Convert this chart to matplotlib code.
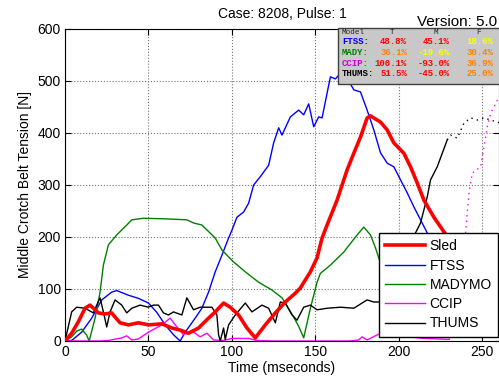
import matplotlib
matplotlib.use("Agg")
import matplotlib.pyplot as plt
from matplotlib.patches import Rectangle

plt.rcParams['font.family'] = ['Liberation Sans', 'DejaVu Sans']
plt.rcParams['font.size'] = 10

# Sled (red, thick)
sled_t = [0, 4, 8, 12, 15, 18, 20, 24, 28, 30, 33, 38, 44, 50, 58, 64, 69, 74, 80, 86, 90, 95,
          99, 104, 109, 114, 120, 126, 132, 138, 141, 147, 151, 154, 157, 163, 169, 173, 177,
          181, 183, 189, 193, 197, 203, 207, 211, 215, 221, 227, 233, 240]
sled_v = [0, 15, 37, 63, 69, 60, 54, 52, 54, 46, 35, 31, 35, 31, 33, 25, 21, 15, 25, 44, 56, 73,
          65, 50, 25, 6, 31, 54, 75, 92, 102, 133, 160, 198, 223, 271, 329, 361, 392,
          429, 433, 421, 406, 381, 361, 335, 304, 271, 238, 210, 185, 160]

# FTSS (blue)
ftss_t = [0, 4, 10, 16, 22, 28, 31, 38, 44, 50, 55, 60, 65, 69, 72, 78, 82, 86, 90, 94, 98,
          100, 103, 107, 110, 113, 117, 122, 125, 128, 130, 135, 140, 143, 146, 149, 152, 154,
          159, 162, 165, 169, 173, 177, 181, 185, 189, 193, 197, 201, 205, 209, 213, 217, 222]
ftss_v = [0, 1, 17, 44, 79, 94, 97, 88, 82, 73, 55, 31, 12, 0, 17, 44, 63, 94, 133, 165, 198,
          213, 238, 248, 265, 300, 316, 338, 381, 410, 396, 431, 444, 435, 456, 412, 431, 429,
          508, 504, 515, 506, 483, 479, 444, 406, 362, 342, 335, 310, 285, 258, 233, 208, 180]

# MADYMO (green)
mady_t = [0, 4, 7, 10, 13, 14.5, 18, 21, 23, 26, 31, 37, 40, 47, 60, 73, 77, 82, 90, 94, 101,
          108, 116, 124, 130, 134, 137, 140, 143, 147, 151, 153, 159, 167, 175, 179, 183, 186,
          190, 196, 202]
mady_v = [0, 8, 19, 23, 11, 0, 44, 94, 146, 185, 204, 223, 233, 236, 235, 233, 227, 223, 198,
          175, 152, 133, 113, 98, 83, 62, 46, 28, 6, 63, 113, 130, 146, 171, 204, 219, 204, 179,
          140, 100, 60]

# CCIP (magenta), solid part then dotted part
ccip_t = [0, 20, 26, 34, 37, 40, 44, 50, 58, 63, 67, 71, 73, 77, 81, 85, 89, 95, 100, 110,
          115, 125, 150, 170, 176, 178, 181, 189, 200, 215, 230]
ccip_v = [0, 0, 1, 6, 10, 2, 4, 17, 31, 44, 27, 12, 15, 17, 8, 15, 2, 1, 5, 5, 1, 0, 0, 0, 2, 8,
          2, 15, 10, 5, 3]
ccip_dot_t = [230, 236, 238, 240, 242, 244, 249, 251, 253, 255, 259, 262]
ccip_dot_v = [3, 20, 100, 208, 285, 323, 335, 373, 412, 438, 463, 470]

# THUMS (black), solid part then dotted part
thums_t = [0, 4, 7, 12, 17, 19, 21, 23, 25, 27, 30, 34, 37, 40, 45, 50, 53, 56, 59, 62, 65,
           70, 73, 77, 81, 88, 91, 92, 93, 95, 96, 98, 102, 108, 112, 118, 122, 126, 129, 132,
           136, 139, 143, 147, 151, 157, 165, 173, 181, 185, 190, 200, 208, 210, 213, 217, 219,
           223, 226, 229]
thums_v = [0, 56, 65, 63, 54, 69, 83, 56, 27, 56, 79, 69, 54, 63, 69, 65, 69, 69, 54, 50, 56,
           50, 83, 60, 65, 65, 50, 12, 0, 25, 3, 31, 50, 73, 56, 69, 63, 35, 75, 73, 50, 40, 65,
           69, 60, 63, 65, 63, 79, 75, 75, 120, 190, 208, 227, 277, 310, 335, 361, 387]
thums_dot_t = [229, 231, 235, 239, 243, 247, 251, 255, 259, 262]
thums_dot_v = [387, 396, 390, 419, 429, 425, 429, 425, 421, 418]

# error table
tbl_models = ['FTSS:', 'MADY:', 'CCIP:', 'THUMS:']
tbl_model_colors = ['#0000ff', '#008000', '#cc00cc', '#000000']
tbl_T = ['48.8%', '36.1%', '100.1%', '51.5%']
tbl_M = ['45.1%', '-19.6%', '-93.0%', '-45.0%']
tbl_F = ['18.6%', '30.4%', '36.9%', '25.0%']
tbl_T_col = ['red', 'orange', 'red', 'red']
tbl_M_col = ['red', 'yellow', 'red', 'red']
tbl_F_col = ['yellow', 'orange', 'orange', 'orange']
col_map = {'red': '#ff0000', 'orange': '#ff8000', 'yellow': '#ffff00'}

W, H = 499, 381
fig = plt.figure(figsize=(W / 100, H / 100), dpi=100)
ax = fig.add_axes([65 / W, 1 - 341 / H, 434 / W, 312 / H])

ax.plot(sled_t, sled_v, color='#ff0000', lw=2.6, label='Sled', zorder=3)
ax.plot(ftss_t, ftss_v, color='#0000ff', lw=1.0, label='FTSS')
ax.plot(mady_t, mady_v, color='#008000', lw=1.0, label='MADYMO')
ax.plot(ccip_t, ccip_v, color='#ff00ff', lw=1.0, label='CCIP')
ax.plot(thums_t, thums_v, color='black', lw=1.0, label='THUMS')
ax.plot(ccip_dot_t, ccip_dot_v, color='#ff00ff', lw=1.0, ls=(0, (1, 3)))
ax.plot(thums_dot_t, thums_dot_v, color='black', lw=1.0, ls=(0, (1, 3)))

ax.set_xlim(0, 260)
ax.set_ylim(0, 600)
ax.set_xticks([0, 50, 100, 150, 200, 250])
ax.set_yticks([0, 100, 200, 300, 400, 500, 600])
ax.grid(True, ls=':', color='0.45', lw=0.8)
ax.tick_params(direction='in', length=4, top=True, right=True, pad=3)
ax.set_xlabel('Time (mseconds)', labelpad=1)
ax.set_ylabel('Middle Crotch Belt Tension [N]', labelpad=4)
ax.set_title('Case: 8208, Pulse: 1', fontsize=10, pad=8)

leg = ax.legend(loc='lower right', bbox_to_anchor=(0.998, 0.014), fancybox=False,
                framealpha=1, edgecolor='black', handlelength=2.9, handletextpad=0.3,
                labelspacing=0.38, borderpad=0.45, borderaxespad=0)
leg.get_frame().set_linewidth(1.0)

fig.text(497 / W, 1 - 26 / H, 'Version: 5.0', ha='right', va='baseline', fontsize=11)

# table box
fig.patches.append(Rectangle((338 / W, 1 - 84 / H), 163 / W, 56 / H, transform=fig.transFigure,
                             facecolor='#c8c8c8', edgecolor='#404040', lw=1.0, zorder=5))
mono = ['Liberation Mono', 'DejaVu Sans Mono']
fs = 6.5
fig.text(342 / W, 1 - 32 / H, 'Model', family=mono, fontsize=5.5, color='#202020',
         va='center', zorder=6)
for x, s in [(392, 'T'), (436, 'M'), (479, 'F')]:
    fig.text(x / W, 1 - 32 / H, s, family=mono, fontsize=5.5, color='#202020', ha='center',
             va='center', zorder=6)
for i in range(len(tbl_models)):
    y = 1 - (42 + i * 10.5) / H
    fig.text(342 / W, y, tbl_models[i], family=mono, fontsize=fs, fontweight='bold',
             color=tbl_model_colors[i], va='center', zorder=6)
    fig.text(407 / W, y, tbl_T[i], family=mono, fontsize=fs, fontweight='bold',
             color=col_map[tbl_T_col[i]], ha='right', va='center', zorder=6)
    fig.text(450 / W, y, tbl_M[i], family=mono, fontsize=fs, fontweight='bold',
             color=col_map[tbl_M_col[i]], ha='right', va='center', zorder=6)
    fig.text(493 / W, y, tbl_F[i], family=mono, fontsize=fs, fontweight='bold',
             color=col_map[tbl_F_col[i]], ha='right', va='center', zorder=6)

fig.savefig('out.png', dpi=100)
